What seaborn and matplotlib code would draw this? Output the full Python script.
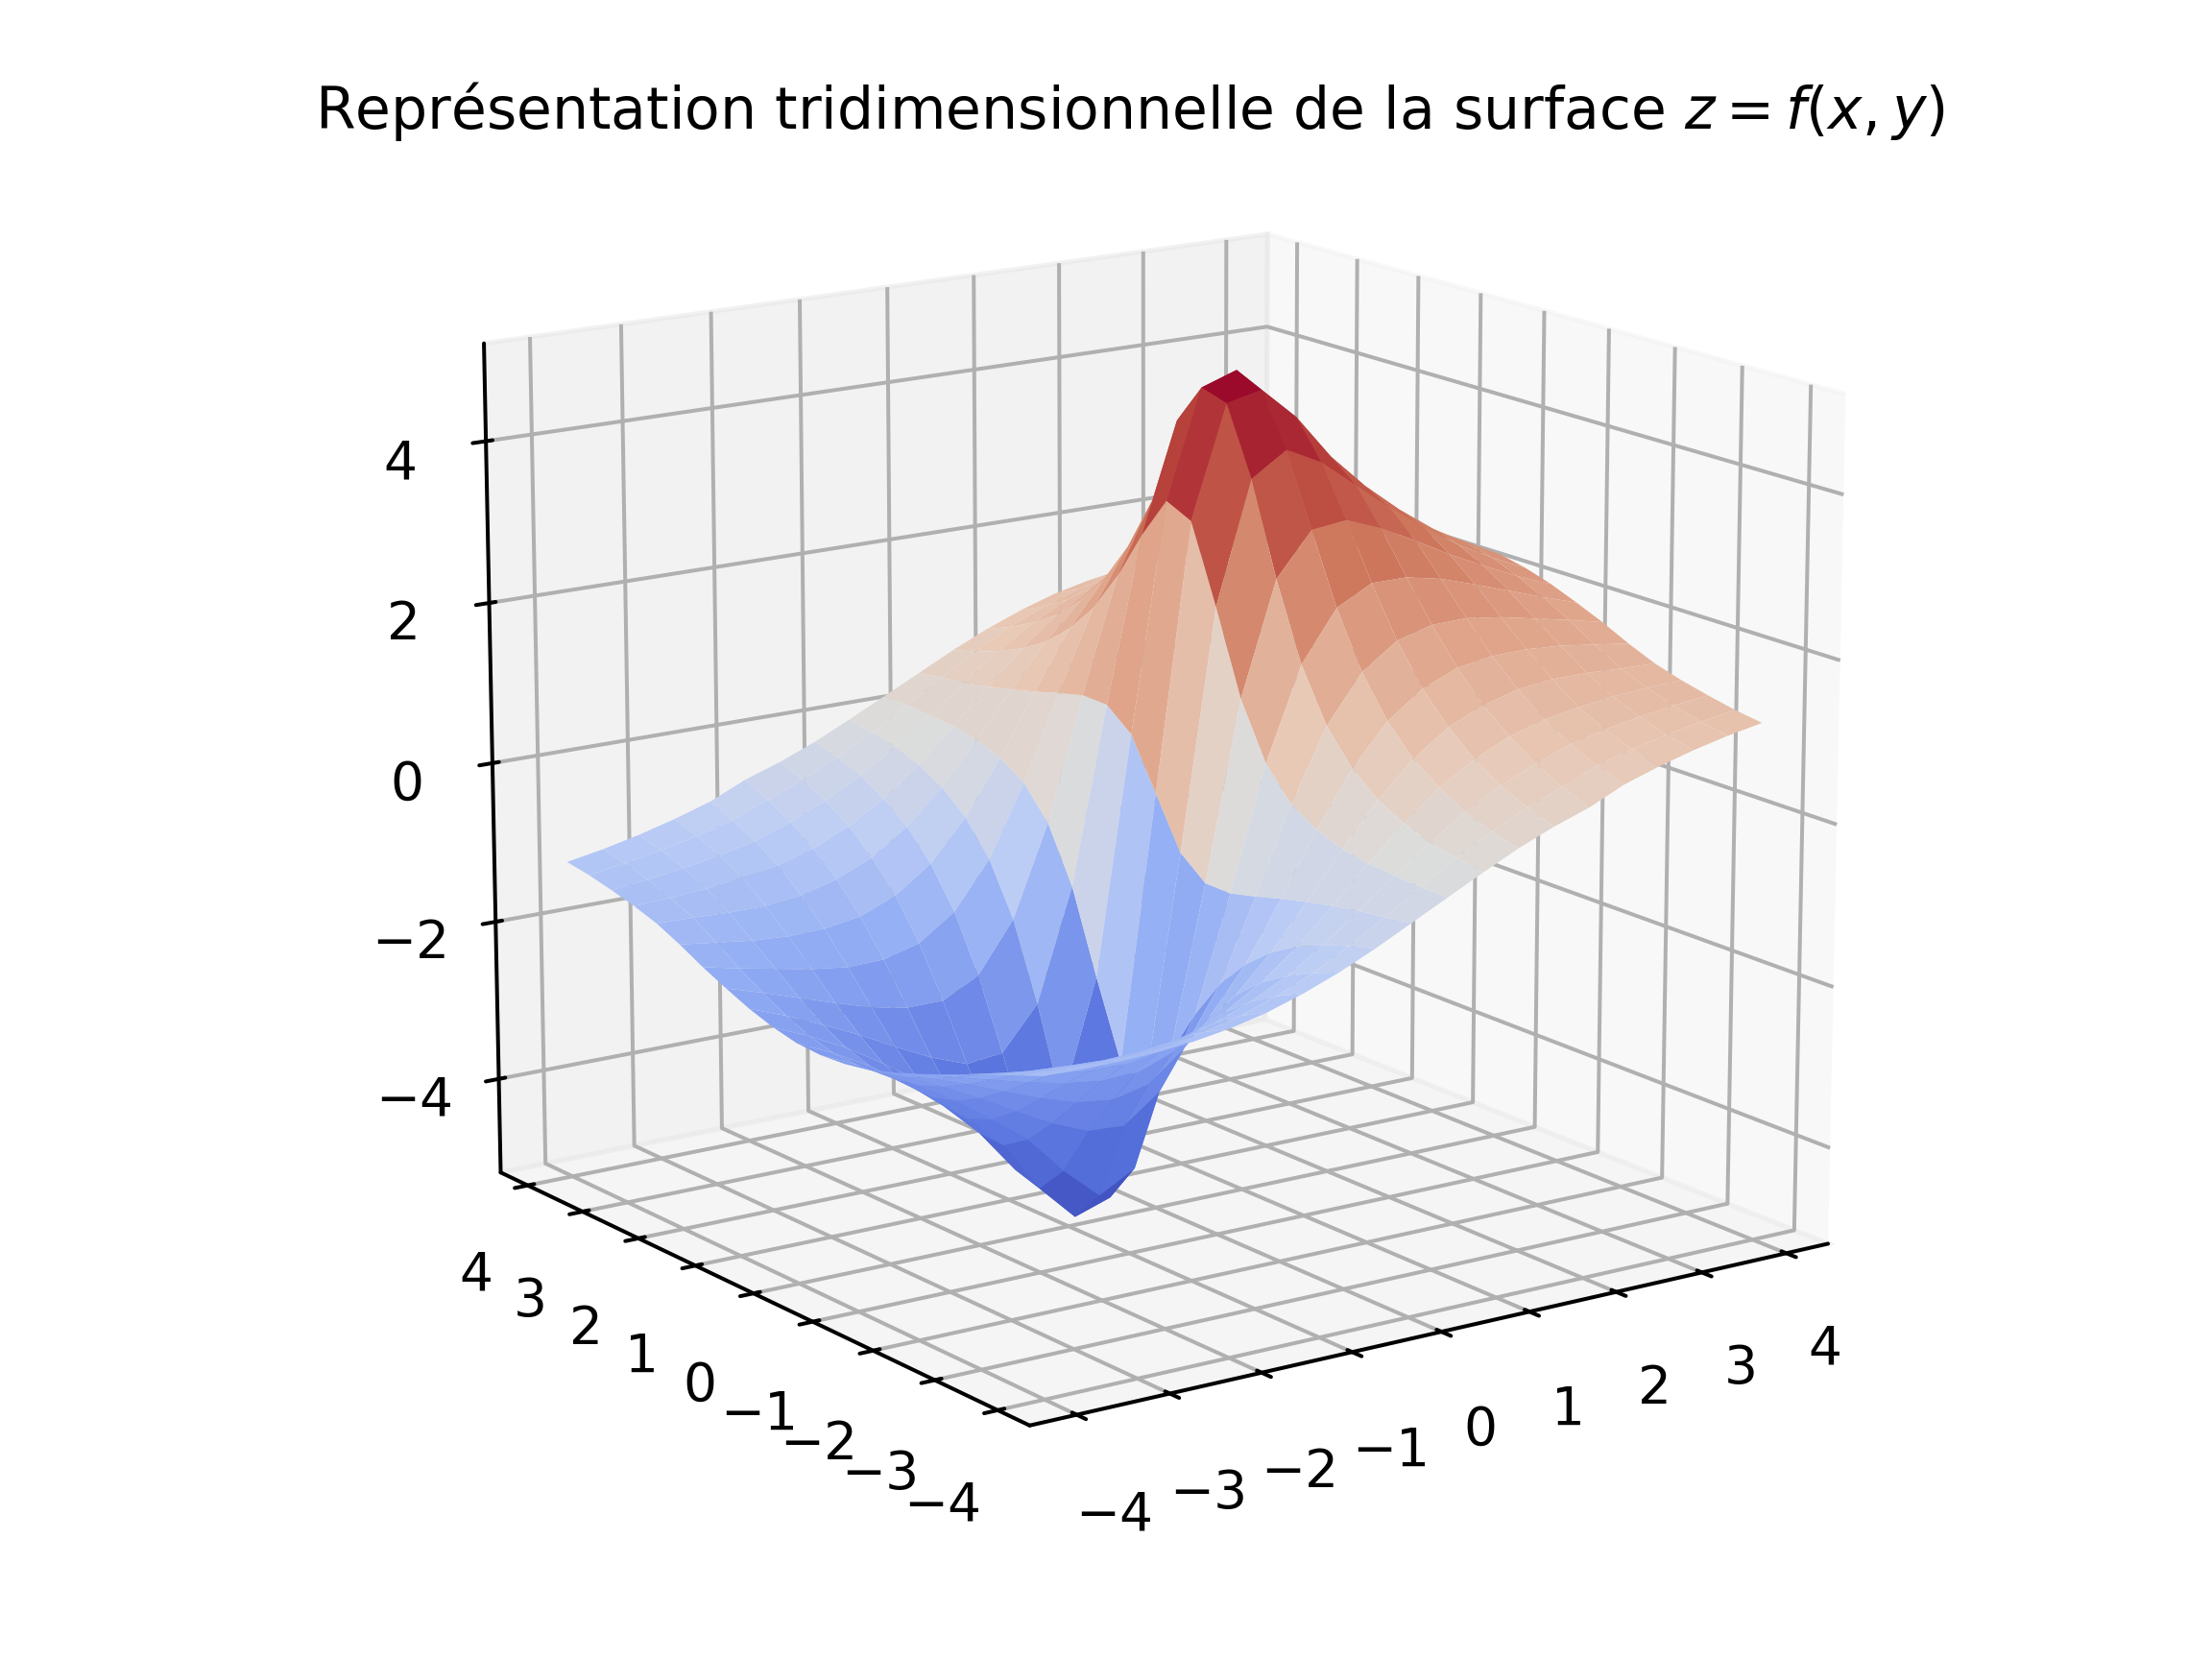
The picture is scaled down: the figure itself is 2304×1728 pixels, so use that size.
import numpy as np
import pandas as pd
import matplotlib
matplotlib.use("Agg")
import matplotlib.pyplot as plt
import seaborn as sns

# Grid and heights, using a rough hand-fitted shape
# as a guide (peak about 5 near x=1.2, y=0.4), the hidden back side is a guess.
x_values = [-4.0, -3.6, -3.2, -2.8, -2.4, -2.0, -1.6, -1.2, -0.8, -0.4, 0.0,
            0.4, 0.8, 1.2, 1.6, 2.0, 2.4, 2.8, 3.2, 3.6, 4.0]
y_values = list(x_values)

# rows y = 0 ... 4, the surface looks point-symmetric so y < 0 is mirrored below
z_y00 = [-2.24, -2.45, -2.70, -3.01, -3.37, -3.80, -4.35, -4.75, -4.65, -3.28, 0.0,
         3.28, 4.65, 4.75, 4.35, 3.80, 3.37, 3.01, 2.70, 2.45, 2.24]
z_y04 = [-2.17, -2.37, -2.60, -2.88, -3.19, -3.54, -3.89, -4.11, -3.82, -2.33, 0.62,
         3.43, 4.75, 4.90, 4.45, 3.82, 3.40, 3.04, 2.73, 2.47, 2.26]
z_y08 = [-2.07, -2.24, -2.44, -2.65, -2.89, -3.11, -3.28, -3.23, -2.70, -1.31, 0.88,
         2.91, 4.25, 4.50, 4.10, 3.62, 3.28, 2.96, 2.68, 2.44, 2.24]
z_y12 = [-1.94, -2.08, -2.23, -2.38, -2.52, -2.61, -2.61, -2.38, -1.76, -0.63, 0.89,
         2.30, 3.17, 3.50, 3.47, 3.29, 3.05, 2.80, 2.57, 2.36, 2.18]
z_y16 = [-1.80, -1.90, -1.99, -2.08, -2.14, -2.13, -2.01, -1.70, -1.12, -0.24, 0.81,
         1.80, 2.50, 2.86, 2.96, 2.90, 2.76, 2.59, 2.41, 2.25, 2.09]
z_y20 = [-1.64, -1.70, -1.76, -1.79, -1.78, -1.71, -1.53, -1.21, -0.71, -0.04, 0.72,
         1.44, 1.99, 2.33, 2.49, 2.51, 2.45, 2.35, 2.23, 2.11, 1.98]
z_y24 = [-1.50, -1.51, -1.53, -1.53, -1.48, -1.36, -1.17, -0.86, -0.44, 0.08, 0.64,
         1.17, 1.61, 1.92, 2.10, 2.17, 2.17, 2.12, 2.04, 1.95, 1.86]
z_y28 = [-1.40, -1.38, -1.35, -1.29, -1.22, -1.09, -0.89, -0.62, -0.27, 0.14, 0.57,
         0.98, 1.33, 1.60, 1.78, 1.87, 1.91, 1.90, 1.86, 1.80, 1.73]
z_y32 = [-1.32, -1.27, -1.21, -1.13, -1.03, -0.87, -0.68, -0.44, -0.15, 0.17, 0.51,
         0.84, 1.13, 1.35, 1.52, 1.63, 1.68, 1.70, 1.68, 1.65, 1.61]
z_y36 = [-1.25, -1.18, -1.10, -1.00, -0.88, -0.70, -0.53, -0.32, -0.08, 0.19, 0.47,
         0.73, 0.97, 1.16, 1.31, 1.42, 1.49, 1.52, 1.52, 1.51, 1.49]
z_y40 = [-1.20, -1.12, -1.02, -0.90, -0.76, -0.56, -0.41, -0.23, -0.02, 0.20, 0.42,
         0.64, 0.84, 1.01, 1.15, 1.25, 1.32, 1.36, 1.38, 1.38, 1.37]

x_ticks = [-4, -3, -2, -1, 0, 1, 2, 3, 4]
y_ticks = [-4, -3, -2, -1, 0, 1, 2, 3, 4]
z_ticks = [-4, -2, 0, 2, 4]

# colours, a bit darker than plain coolwarm
surface_colors = ["#3f4fbd", "#5570dc", "#6f8ae8", "#93aef4", "#bccdf5", "#dcdcdc",
                  "#e8c9b6", "#e0a78d", "#cf7a5f", "#b9443c", "#9b0a2b"]

upper = np.array([z_y00, z_y04, z_y08, z_y12, z_y16, z_y20, z_y24, z_y28, z_y32, z_y36, z_y40])
lower = -upper[:0:-1, ::-1]
heights = pd.DataFrame(np.vstack([lower, upper]), index=y_values, columns=x_values)

sns.set_style("white", rc={
    "text.color": "black", "axes.labelcolor": "black", "axes.edgecolor": "black",
    "xtick.color": "black", "ytick.color": "black", "grid.color": "#b0b0b0",
})
plt.rcParams["axes.linewidth"] = 0.8
plt.rcParams["grid.linewidth"] = 0.8
plt.rcParams["xtick.major.width"] = 0.8
plt.rcParams["ytick.major.width"] = 0.8
plt.rcParams["xtick.labelsize"] = 11
plt.rcParams["ytick.labelsize"] = 11

fig = plt.figure(figsize=(6.4, 4.8), dpi=360)
ax = fig.add_axes([0.0126, 0.0185, 1.0, 0.98], projection="3d")
ax.set_box_aspect((4, 4, 3.6), zoom=0.966)

X, Y = np.meshgrid(heights.columns.values, heights.index.values)
cmap = sns.blend_palette(surface_colors, as_cmap=True)
ax.plot_surface(X, Y, heights.values, rstride=1, cstride=1, cmap=cmap,
                linewidth=0, antialiased=True)

ax.set_xlim(-4.5, 4.5)
ax.set_ylim(-4.5, 4.5)
ax.set_zlim(-5.2, 5.2)
ax.set_xticks(x_ticks)
ax.set_yticks(y_ticks)
ax.set_zticks(z_ticks)
ax.view_init(elev=15, azim=-125)
fig.suptitle("Représentation tridimensionnelle de la surface $z = f(x, y)$",
             fontsize=12, x=0.511, y=0.933, va="center")

fig.savefig("out.png")
